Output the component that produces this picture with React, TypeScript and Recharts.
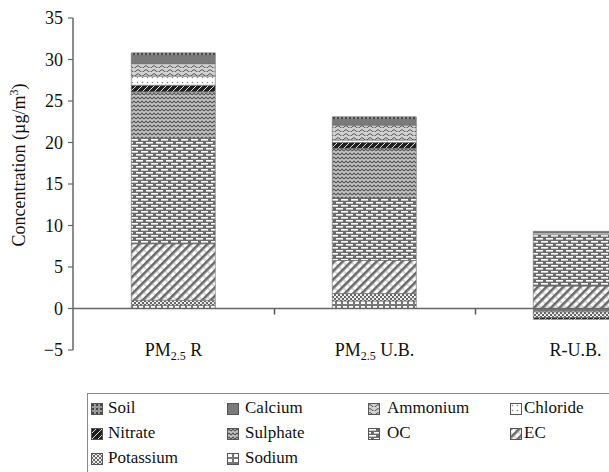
import { Bar, BarChart, ReferenceLine, XAxis, YAxis } from 'recharts'

const categories = ['PM2.5 R', 'PM2.5 U.B.', 'R-U.B.']

// stacked from the bottom up (legend lists them top-down)
const sodium = [0.4, 0.9, -0.4]
const potassium = [0.6, 0.9, -0.7]
const ec = [6.8, 4.0, 2.7]
const oc = [12.7, 7.5, 6.2]
const sulphate = [5.6, 6.0, 0]
const nitrate = [0.8, 0.7, -0.2]
const chloride = [1.1, 0.3, 0.2]
const ammonium = [1.5, 1.8, 0]
const calcium = [1.0, 0.7, 0.2]
const soil = [0.3, 0.3, 0]

const yTicks = [-5, 0, 5, 10, 15, 20, 25, 30, 35]

const series = [
  { key: 'Sodium', values: sodium, fill: 'url(#p-sodium)' },
  { key: 'Potassium', values: potassium, fill: 'url(#p-potassium)' },
  { key: 'EC', values: ec, fill: 'url(#p-ec)' },
  { key: 'OC', values: oc, fill: 'url(#p-oc)' },
  { key: 'Sulphate', values: sulphate, fill: 'url(#p-sulphate)' },
  { key: 'Nitrate', values: nitrate, fill: 'url(#p-nitrate)' },
  { key: 'Chloride', values: chloride, fill: 'url(#p-chloride)' },
  { key: 'Ammonium', values: ammonium, fill: 'url(#p-ammonium)' },
  { key: 'Calcium', values: calcium, fill: '#7a7a7a' },
  { key: 'Soil', values: soil, fill: 'url(#p-soil)' },
]

const legendRows = [
  ['Soil', 'Calcium', 'Ammonium', 'Chloride'],
  ['Nitrate', 'Sulphate', 'OC', 'EC'],
  ['Potassium', 'Sodium'],
]

const data = categories.map((name, i) => {
  const row: Record<string, number | string> = { name }
  series.forEach((s) => {
    row[s.key] = s.values[i]
  })
  return row
})

const FONT = 'Liberation Serif, Tinos, Times New Roman, DejaVu Serif, serif'
const AXIS = '#666'

// chart geometry
const CHART_W = 720
const CHART_H = 372
const MARGIN = { top: 18, right: 44, left: 0, bottom: 0 }
const Y_AXIS_W = 73
const X_AXIS_H = 22
const BAND = (CHART_W - MARGIN.left - MARGIN.right - Y_AXIS_W) / categories.length
const PLOT_H = CHART_H - MARGIN.top - MARGIN.bottom - X_AXIS_H
const ZERO_UP = (PLOT_H * (0 - yTicks[0])) / (yTicks[yTicks.length - 1] - yTicks[0])

// category label plus the small tick mark on the zero line at the band's right edge
function CategoryTick(props: any) {
  const { x, y, payload } = props
  const label: string = payload.value
  const style = { fontFamily: FONT }
  const cx = Number(x)
  const cy = Number(y)
  const bx = Math.round(cx + BAND / 2) + 0.5
  const zy = cy - ZERO_UP
  return (
    <g>
      <rect x={bx - 0.75} y={zy} width={1.5} height={6} fill="#555" />
      {label.startsWith('PM2.5') ? (
        <text x={cx} y={cy + 6} textAnchor="middle" style={style} fontSize={18} fill="#111">
          <tspan>PM</tspan>
          <tspan fontSize={12} dy={4}>2.5</tspan>
          <tspan dy={-4}>{label.slice(5)}</tspan>
        </text>
      ) : (
        <text x={cx} y={cy + 6} textAnchor="middle" style={style} fontSize={18} fill="#111">
          {label}
        </text>
      )}
    </g>
  )
}

function YLabel() {
  return (
    <text
      transform="translate(25,165) rotate(-90)"
      textAnchor="middle"
      style={{ fontFamily: FONT }}
      fontSize={18}
      fill="#111"
    >
      Concentration (µg/m<tspan fontSize={12} dy={-7}>3</tspan>
      <tspan dy={7}>)</tspan>
    </text>
  )
}

function Patterns() {
  return (
    <defs>
      <pattern id="p-sodium" width="6" height="5" patternUnits="userSpaceOnUse">
        <rect width="6" height="5" fill="#fff" />
        <rect x="0.5" y="0.5" width="5" height="4" fill="none" stroke="#777" strokeWidth="1" />
      </pattern>
      <pattern id="p-potassium" width="4" height="4" patternUnits="userSpaceOnUse">
        <rect width="4" height="4" fill="#eee" />
        <rect width="2" height="2" fill="#666" />
        <rect x="2" y="2" width="2" height="2" fill="#666" />
      </pattern>
      <pattern id="p-ec" width="6" height="6" patternUnits="userSpaceOnUse" patternTransform="rotate(45)">
        <rect width="6" height="6" fill="#fff" />
        <rect width="2.6" height="6" fill="#6a6a6a" />
        <rect x="2.6" y="2.5" width="3.4" height="0.9" fill="#aaa" />
      </pattern>
      <pattern id="p-oc" width="10" height="6" patternUnits="userSpaceOnUse">
        <rect width="10" height="6" fill="#6b6b6b" />
        <rect x="1" y="1" width="7" height="1.6" fill="#fff" />
        <rect x="6" y="4" width="7" height="1.6" fill="#fff" />
        <rect x="-4" y="4" width="7" height="1.6" fill="#fff" />
      </pattern>
      <pattern id="p-sulphate" width="4" height="4" patternUnits="userSpaceOnUse">
        <rect width="4" height="4" fill="#c4c4c4" />
        <path d="M0 3 L2 1 L4 3" stroke="#555" strokeWidth="1.1" fill="none" />
      </pattern>
      <pattern id="p-nitrate" width="6" height="6" patternUnits="userSpaceOnUse">
        <rect width="6" height="6" fill="#1e1e1e" />
        <path d="M0 6 L6 0" stroke="#ddd" strokeWidth="1" />
      </pattern>
      <pattern id="p-chloride" width="5" height="5" patternUnits="userSpaceOnUse">
        <rect width="5" height="5" fill="#fff" />
        <circle cx="2.5" cy="2.5" r="0.8" fill="#888" />
      </pattern>
      <pattern id="p-ammonium" width="8" height="4" patternUnits="userSpaceOnUse">
        <rect width="8" height="4" fill="#d2d2d2" />
        <path d="M0 3 Q2 0 4 3 T8 3" stroke="#555" strokeWidth="1" fill="none" />
      </pattern>
      <pattern id="p-soil" width="4" height="4" patternUnits="userSpaceOnUse">
        <rect width="4" height="4" fill="#999" />
        <rect x="1" y="1" width="2" height="2" fill="#444" />
      </pattern>
    </defs>
  )
}

function LegendBox() {
  const fills: Record<string, string> = {}
  series.forEach((s) => {
    fills[s.key] = s.fill
  })
  const colX = [91, 227, 368, 510]
  const textX = [108, 245, 387, 524]
  const rowY = [409, 434, 459]
  return (
    <div
      style={{
        position: 'absolute',
        left: 87,
        top: 393,
        width: 600,
        height: 120,
        border: '1px solid #888',
      }}
    >
      {legendRows.map((row, r) =>
        row.map((key, c) => (
          <div key={key}>
            <svg
              width={12}
              height={12}
              style={{ position: 'absolute', left: colX[c] - 88, top: rowY[r] - 394 - 6 }}
            >
              <rect x={0.5} y={0.5} width={11} height={11} fill={fills[key]} stroke="#555" strokeWidth={1} />
            </svg>
            <span
              style={{
                position: 'absolute',
                left: textX[c] - 88,
                top: rowY[r] - 394 - 11,
                fontFamily: FONT,
                fontSize: 17,
                lineHeight: '20px',
                color: '#111',
                whiteSpace: 'nowrap',
              }}
            >
              {key}
            </span>
          </div>
        ))
      )}
    </div>
  )
}

export default function App() {
  return (
    <div
      style={{
        position: 'absolute',
        left: 0,
        top: 0,
        width: 609,
        height: 472,
        overflow: 'hidden',
        background: '#fff',
        fontFamily: FONT,
      }}
    >
      <BarChart
        width={CHART_W}
        height={CHART_H}
        data={data}
        stackOffset="sign"
        barCategoryGap="29%"
        margin={MARGIN}
      >
        <Patterns />
        <YAxis
          width={Y_AXIS_W}
          domain={[yTicks[0], yTicks[yTicks.length - 1]]}
          ticks={yTicks}
          interval={0}
          tickFormatter={(v: number) => (v < 0 ? `\u2212${Math.abs(v)}` : `${v}`)}
          tick={{ style: { fontFamily: FONT }, fontSize: 18, fill: '#111' }}
          axisLine={{ stroke: AXIS, strokeWidth: 1.5 }}
          tickLine={{ stroke: AXIS, strokeWidth: 1.2 }}
          tickSize={5}
          tickMargin={5}
          label={<YLabel />}
        />
        {series.map((s) => (
          <Bar
            key={s.key}
            dataKey={s.key}
            stackId="a"
            fill={s.fill}
            stroke="#666"
            strokeWidth={0.6}
            isAnimationActive={false}
          />
        ))}
        <ReferenceLine y={0} stroke={AXIS} strokeWidth={1.5} />
        <XAxis
          dataKey="name"
          axisLine={false}
          tickLine={false}
          tickSize={0}
          tickMargin={0}
          height={X_AXIS_H}
          tick={<CategoryTick />}
          interval={0}
        />
      </BarChart>
      <LegendBox />
    </div>
  )
}
